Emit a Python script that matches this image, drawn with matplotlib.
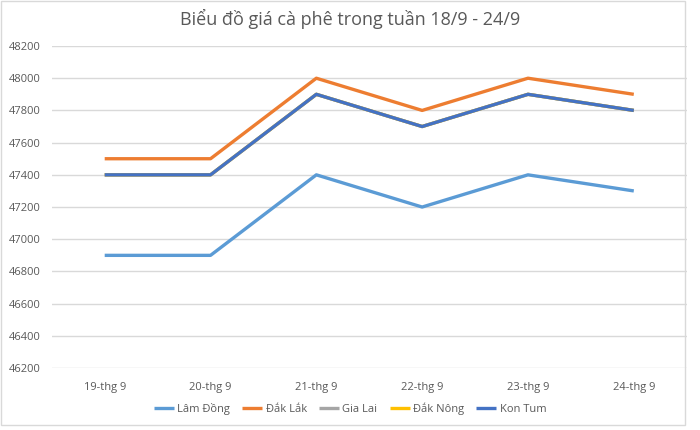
import matplotlib
matplotlib.use("Agg")
import matplotlib.pyplot as plt
from matplotlib.patches import Rectangle

plt.rcParams["font.family"] = ["Open Sans", "DejaVu Sans"]

days = ["19-thg 9", "20-thg 9", "21-thg 9", "22-thg 9", "23-thg 9", "24-thg 9"]
lam_dong = [46900, 46900, 47400, 47200, 47400, 47300]
dak_lak = [47500, 47500, 48000, 47800, 48000, 47900]
gia_lai = [47400, 47400, 47900, 47700, 47900, 47800]
dak_nong = [47400, 47400, 47900, 47700, 47900, 47800]
kon_tum = [47400, 47400, 47900, 47700, 47900, 47800]

series = [
    ("Lâm Đồng", lam_dong, "#5B9BD5"),
    ("Đắk Lắk", dak_lak, "#ED7D31"),
    ("Gia Lai", gia_lai, "#A5A5A5"),
    ("Đắk Nông", dak_nong, "#FFC000"),
    ("Kon Tum", kon_tum, "#4472C4"),
]
TXT = "#595959"

fig = plt.figure(figsize=(7, 4.3), dpi=100)
ax = fig.add_axes([0.074, 0.144, 0.907, 0.749])

x = range(len(days))
for name, vals, col in series:
    ax.plot(x, vals, color=col, lw=2.4, label=name, solid_capstyle="butt")

ax.set_xlim(-0.5, len(days) - 0.5)
ax.set_ylim(46200, 48200)
ax.set_yticks(range(46200, 48201, 200))
ax.set_xticks(list(x))
ax.set_xticklabels(days)
ax.tick_params(axis="both", length=0, labelsize=8, colors=TXT, pad=10)
ax.tick_params(axis="y", pad=8)
ax.grid(axis="y", color="#d9d9d9", lw=1)
ax.set_axisbelow(True)
for s in ax.spines.values():
    s.set_visible(False)

fig.text(0.5, 0.955, "Biểu đồ giá cà phê trong tuần 18/9 - 24/9", ha="center", va="center",
         fontsize=13, color=TXT)
fig.legend(loc="center", bbox_to_anchor=(0.5, 0.05), ncol=5, frameon=False, fontsize=8,
           handlelength=1.8, handletextpad=0.3, columnspacing=1.1, labelcolor=TXT)

fig.patches.append(Rectangle((0.002, 0.012), 0.977, 0.985, transform=fig.transFigure,
                             fill=False, edgecolor="#d9d9d9", lw=1))

fig.savefig("out.png", dpi=100)
